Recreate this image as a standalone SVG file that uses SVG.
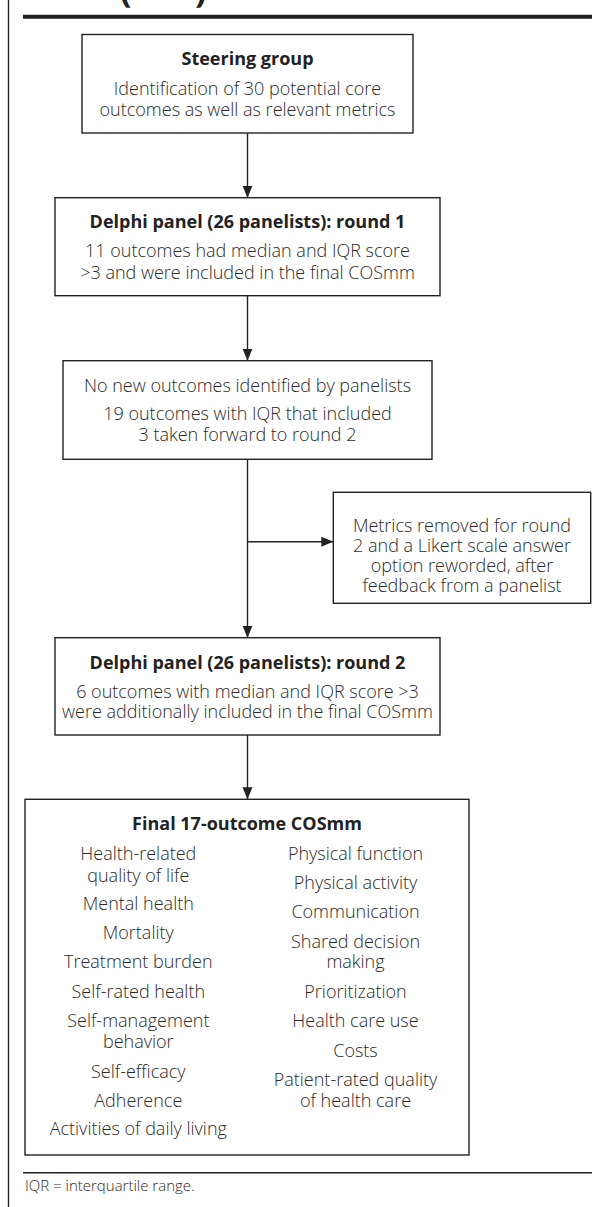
<svg xmlns="http://www.w3.org/2000/svg" width="592" height="1207" viewBox="0 0 592 1207">
<style>
.box{fill:#fff;stroke:#222;stroke-width:1.4}
.t{font-family:"Open Sans","Noto Sans",sans-serif;font-size:18px;font-weight:300;fill:#2a2a2a;text-anchor:middle}
.b{font-weight:bold;fill:#222}
.ln{stroke:#222;stroke-width:1.4;fill:none}
.fn{font-family:"Open Sans","Noto Sans",sans-serif;font-size:15px;font-weight:300;fill:#2a2a2a}
</style>
<defs>
<marker id="ah" markerUnits="userSpaceOnUse" markerWidth="12" markerHeight="12" viewBox="0 0 12 12" refX="12" refY="6" orient="auto">
<path d="M0,1 L12,6 L0,11 Z" fill="#222"/>
</marker>
</defs>
<rect width="592" height="1207" fill="#fff"/>
<g id="frame">
<line x1="8.5" y1="0" x2="8.5" y2="1207" stroke="#222" stroke-width="1.4"/>
<line x1="23" y1="16.7" x2="592" y2="16.7" stroke="#222" stroke-width="4"/>
<text x="120" y="2" font-family="Open Sans,sans-serif" font-size="34" font-weight="bold" fill="#222">(</text>
<text x="195" y="2" font-family="Open Sans,sans-serif" font-size="34" font-weight="bold" fill="#222">)</text>
<line x1="23" y1="1172.7" x2="592" y2="1172.7" stroke="#222" stroke-width="1.4"/>
<text class="fn" x="25" y="1191">IQR = interquartile range.</text>
</g>
<g id="connectors">
<line class="ln" x1="247.5" y1="133" x2="247.5" y2="197.7" marker-end="url(#ah)"/>
<line class="ln" x1="247.5" y1="295.7" x2="247.5" y2="360.7" marker-end="url(#ah)"/>
<line class="ln" x1="247.5" y1="459.3" x2="247.5" y2="637.7" marker-end="url(#ah)"/>
<line class="ln" x1="247.5" y1="541.7" x2="333.3" y2="541.7" marker-end="url(#ah)"/>
<line class="ln" x1="247.5" y1="735" x2="247.5" y2="799.3" marker-end="url(#ah)"/>
</g>
<g id="steering">
<rect class="box" x="82" y="34.5" width="331" height="98.5"/>
<text class="t b" x="247.5" y="65">Steering group</text>
<text class="t" x="247.5" y="95">Identification of 30 potential core</text>
<text class="t" x="247.5" y="116">outcomes as well as relevant metrics</text>
</g>
<g id="round1">
<rect class="box" x="55" y="197.7" width="385" height="98"/>
<text class="t b" x="247.5" y="228">Delphi panel (26 panelists): round 1</text>
<text class="t" x="247.5" y="257">11 outcomes had median and IQR score</text>
<text class="t" x="247.5" y="279">&gt;3 and were included in the final COSmm</text>
</g>
<g id="nonew">
<rect class="box" x="63" y="360.7" width="369" height="98.6"/>
<text class="t" x="247.5" y="391.7">No new outcomes identified by panelists</text>
<text class="t" x="247.5" y="420">19 outcomes with IQR that included</text>
<text class="t" x="247.5" y="441">3 taken forward to round 2</text>
</g>
<g id="metrics">
<rect class="box" x="333.3" y="492.3" width="257.4" height="111"/>
<text class="t" x="462" y="531.7">Metrics removed for round</text>
<text class="t" x="462" y="551.7">2 and a Likert scale answer</text>
<text class="t" x="462" y="571.7">option reworded, after</text>
<text class="t" x="462" y="591.7">feedback from a panelist</text>
</g>
<g id="round2">
<rect class="box" x="55" y="637.7" width="385" height="97.3"/>
<text class="t b" x="247.5" y="669">Delphi panel (26 panelists): round 2</text>
<text class="t" x="247.5" y="698.3">6 outcomes with median and IQR score &gt;3</text>
<text class="t" x="247.5" y="718.3">were additionally included in the final COSmm</text>
</g>
<g id="final">
<rect class="box" x="25" y="799.3" width="444" height="355.7"/>
<text class="t b" x="247" y="830">Final 17-outcome COSmm</text>
<text class="t" x="138.3" y="860">Health-related</text>
<text class="t" x="138.3" y="881.7">quality of life</text>
<text class="t" x="138.3" y="910">Mental health</text>
<text class="t" x="138.3" y="939">Mortality</text>
<text class="t" x="138.3" y="968">Treatment burden</text>
<text class="t" x="138.3" y="997.7">Self-rated health</text>
<text class="t" x="138.3" y="1026.7">Self-management</text>
<text class="t" x="138.3" y="1048">behavior</text>
<text class="t" x="138.3" y="1077.7">Self-efficacy</text>
<text class="t" x="138.3" y="1106.7">Adherence</text>
<text class="t" x="138.3" y="1135">Activities of daily living</text>
<text class="t" x="355.5" y="860">Physical function</text>
<text class="t" x="355.5" y="889">Physical activity</text>
<text class="t" x="355.5" y="918">Communication</text>
<text class="t" x="355.5" y="947.7">Shared decision</text>
<text class="t" x="355.5" y="968">making</text>
<text class="t" x="355.5" y="997.7">Prioritization</text>
<text class="t" x="355.5" y="1026.7">Health care use</text>
<text class="t" x="355.5" y="1056.7">Costs</text>
<text class="t" x="355.5" y="1086">Patient-rated quality</text>
<text class="t" x="355.5" y="1106.7">of health care</text>
</g>
</svg>
